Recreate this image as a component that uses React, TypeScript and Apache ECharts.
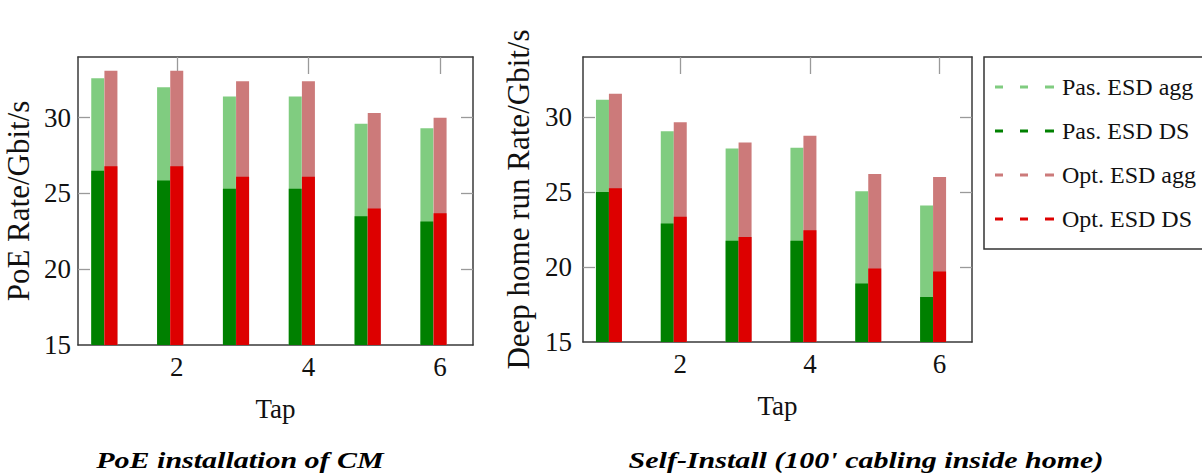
import { useEffect, useRef } from "react";
import * as echarts from "echarts";

// ---- data ----
const taps = [1, 2, 3, 4, 5, 6];
const xTickValues = [2, 4, 6];
const yTickValues = [15, 20, 25, 30];
const yTickMarks = [20, 25, 30];

const seriesNames = ["Pas. ESD agg", "Pas. ESD DS", "Opt. ESD agg", "Opt. ESD DS"];

// PoE installation of CM
const poePasAgg = [32.6, 32.0, 31.4, 31.4, 29.6, 29.3];
const poePasDS = [26.5, 25.85, 25.3, 25.3, 23.5, 23.15];
const poeOptAgg = [33.1, 33.1, 32.4, 32.4, 30.3, 30.0];
const poeOptDS = [26.8, 26.8, 26.1, 26.1, 24.0, 23.7];

// Self-Install (100' cabling inside home)
const selfPasAgg = [31.15, 29.05, 27.9, 27.95, 25.05, 24.1];
const selfPasDS = [25.0, 22.9, 21.75, 21.75, 18.9, 18.0];
const selfOptAgg = [31.55, 29.65, 28.3, 28.75, 26.2, 26.0];
const selfOptDS = [25.25, 23.35, 22.0, 22.45, 19.9, 19.7];

const captions = ["PoE installation of CM", "Self-Install (100' cabling inside home)"];
const yNames = ["PoE Rate/Gbit/s", "Deep home run Rate/Gbit/s"];
const xName = "Tap";

// ---- styles ----
const FONT = "Liberation Serif";
const colors = ["#80cc80", "#008000", "#cc7a7a", "#dd0000"];
const AXIS_COLOR = "#3a3a3a";
const TICK_COLOR = "#9a9a9a";
const GREEN_SHIFT = -0.2;

const grids = [
  { left: 78, top: 57, width: 395, height: 288 },
  { left: 583, top: 57, width: 389, height: 285 },
];

function axesFor(g: number, yLabelMargin: number, yNameGap: number) {
  const axisLine = { show: true, onZero: false, lineStyle: { color: AXIS_COLOR, width: 1.5 } };
  const xBottom = {
    type: "value",
    gridIndex: g,
    position: "bottom",
    min: 0.5,
    max: 6.5,
    axisLine,
    splitLine: { show: false },
    axisTick: { show: false },
    axisLabel: {
      customValues: xTickValues,
      margin: 8,
      fontFamily: FONT,
      fontSize: 27,
      color: "#111",
    },
    name: xName,
    nameLocation: "middle",
    nameGap: 50,
    nameTextStyle: { fontFamily: FONT, fontSize: 27, color: "#111" },
  };
  const xTop = {
    type: "value",
    gridIndex: g,
    position: "top",
    min: 0.5,
    max: 6.5,
    axisLine,
    splitLine: { show: false },
    axisLabel: { show: false },
    axisTick: {
      show: true,
      inside: true,
      length: 17,
      customValues: xTickValues,
      lineStyle: { color: TICK_COLOR, width: 1.3 },
    },
  };
  const yLeft = {
    type: "value",
    gridIndex: g,
    position: "left",
    min: 15,
    max: 34,
    axisLine,
    splitLine: { show: false },
    axisTick: {
      show: true,
      inside: true,
      length: 12,
      customValues: yTickMarks,
      lineStyle: { color: TICK_COLOR, width: 1.3 },
    },
    axisLabel: {
      customValues: yTickValues,
      margin: yLabelMargin,
      fontFamily: FONT,
      fontSize: 27,
      color: "#111",
    },
    name: yNames[g],
    nameLocation: "middle",
    nameRotate: 90,
    nameGap: yNameGap,
    nameTextStyle: { fontFamily: FONT, fontSize: 31, color: "#111" },
  };
  const yRight = {
    type: "value",
    gridIndex: g,
    position: "right",
    min: 15,
    max: 34,
    axisLine,
    splitLine: { show: false },
    axisLabel: { show: false },
    axisTick: {
      show: true,
      inside: true,
      length: 12,
      customValues: yTickMarks,
      lineStyle: { color: TICK_COLOR, width: 1.3 },
    },
  };
  return { x: [xBottom, xTop], y: [yLeft, yRight] };
}

function barSeries(name: string, color: string, values: number[], g: number, shift: number) {
  return {
    type: "bar",
    name,
    xAxisIndex: g * 2,
    yAxisIndex: g * 2,
    data: taps.map((t, i) => [t + shift, values[i]]),
    barWidth: 13,
    barGap: "-100%",
    itemStyle: { color },
    clip: true,
    silent: true,
  };
}

function caption(text: string, x: number) {
  return {
    type: "text",
    x,
    y: 460,
    scaleX: 1.25,
    style: {
      text,
      fontFamily: FONT,
      fontSize: 24,
      fontWeight: "bold",
      fontStyle: "italic",
      fill: "#000",
      textAlign: "center",
      textVerticalAlign: "middle",
    },
  };
}

export default function App() {
  const ref = useRef<HTMLDivElement>(null);
  useEffect(() => {
    const chart = echarts.init(ref.current!, null, { renderer: "svg" });
    const a0 = axesFor(0, 7, 44);
    const a1 = axesFor(1, 11, 49);
    const option = {
      animation: false,
      backgroundColor: "#ffffff",
      grid: grids.map((g) => ({ ...g, containLabel: false })),
      xAxis: [...a0.x, ...a1.x],
      yAxis: [...a0.y, ...a1.y],
      legend: {
        data: seriesNames,
        orient: "vertical",
        left: 984,
        top: 57,
        padding: [15, 40, 15, 11],
        itemGap: 14,
        itemWidth: 59,
        itemHeight: 4,
        icon: "path://M0,0H8V3H0Z M25,0H33V3H25Z M50,0H59V3H50Z",
        borderColor: "#333",
        borderWidth: 1.5,
        selectedMode: false,
        textStyle: {
          fontFamily: FONT,
          fontSize: 24,
          color: "#111",
          lineHeight: 30,
          padding: [0, 0, 0, 3],
        },
      },
      series: [
        barSeries(seriesNames[0], colors[0], poePasAgg, 0, GREEN_SHIFT),
        barSeries(seriesNames[1], colors[1], poePasDS, 0, GREEN_SHIFT),
        barSeries(seriesNames[2], colors[2], poeOptAgg, 0, 0),
        barSeries(seriesNames[3], colors[3], poeOptDS, 0, 0),
        barSeries(seriesNames[0], colors[0], selfPasAgg, 1, GREEN_SHIFT),
        barSeries(seriesNames[1], colors[1], selfPasDS, 1, GREEN_SHIFT),
        barSeries(seriesNames[2], colors[2], selfOptAgg, 1, 0),
        barSeries(seriesNames[3], colors[3], selfOptDS, 1, 0),
      ],
      graphic: [caption(captions[0], 240), caption(captions[1], 866)],
    };
    chart.setOption(option as any);
    return () => chart.dispose();
  }, []);
  return (
    <div
      ref={ref}
      style={{ position: "fixed", left: 0, top: 0, width: 1202, height: 473 }}
    />
  );
}
